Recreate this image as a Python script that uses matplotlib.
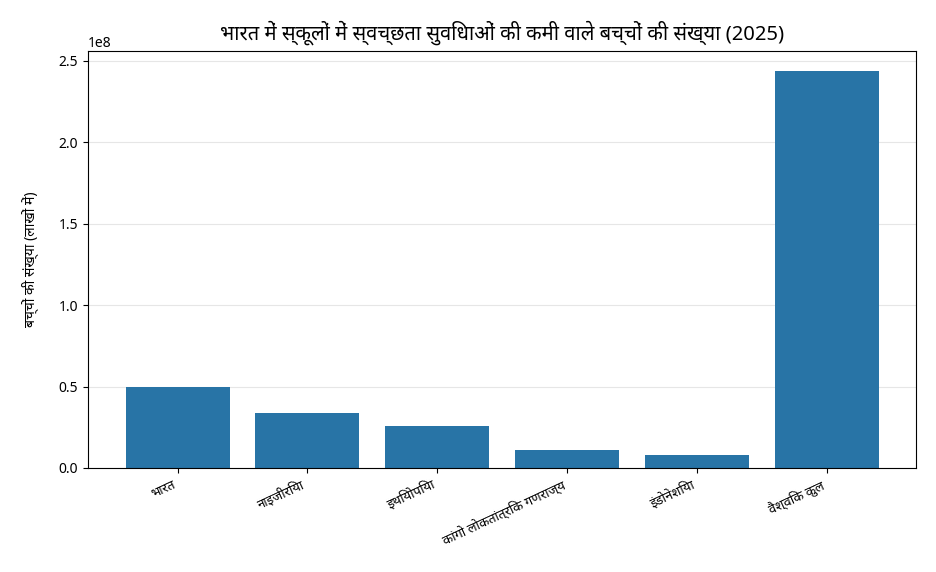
import matplotlib
matplotlib.use("Agg")
import matplotlib.pyplot as plt

plt.rcParams['font.family'] = ['Noto Sans', 'Noto Sans Devanagari', 'Lohit Devanagari', 'DejaVu Sans']

# data
countries = ["भारत", "नाइजीरिया", "इथियोपिया", "कांगो लोकतांत्रिक गणराज्य", "इंडोनेशिया", "वैश्विक कुल"]
children = [5.0e7, 3.37e7, 2.57e7, 1.1e7, 7.8e6, 2.44e8]

fig, ax = plt.subplots(figsize=(9.36, 5.72), dpi=100)
ax.bar(countries, children, color='#2874a6', zorder=2)
ax.set_title("भारत में स्कूलों में स्वच्छता सुविधाओं की कमी वाले बच्चों की संख्या (2025)",
             fontsize=14.5, fontweight='bold', pad=8)
ax.set_ylabel("बच्चों की संख्या (लाखों में)", labelpad=14)
ax.grid(axis='y', color='#e6e6e6', zorder=0)
plt.setp(ax.get_xticklabels(), rotation=25, ha='right', fontsize=9.5)
fig.subplots_adjust(left=0.094, right=0.979, top=0.911, bottom=0.182)
fig.savefig("out.png", dpi=100)
